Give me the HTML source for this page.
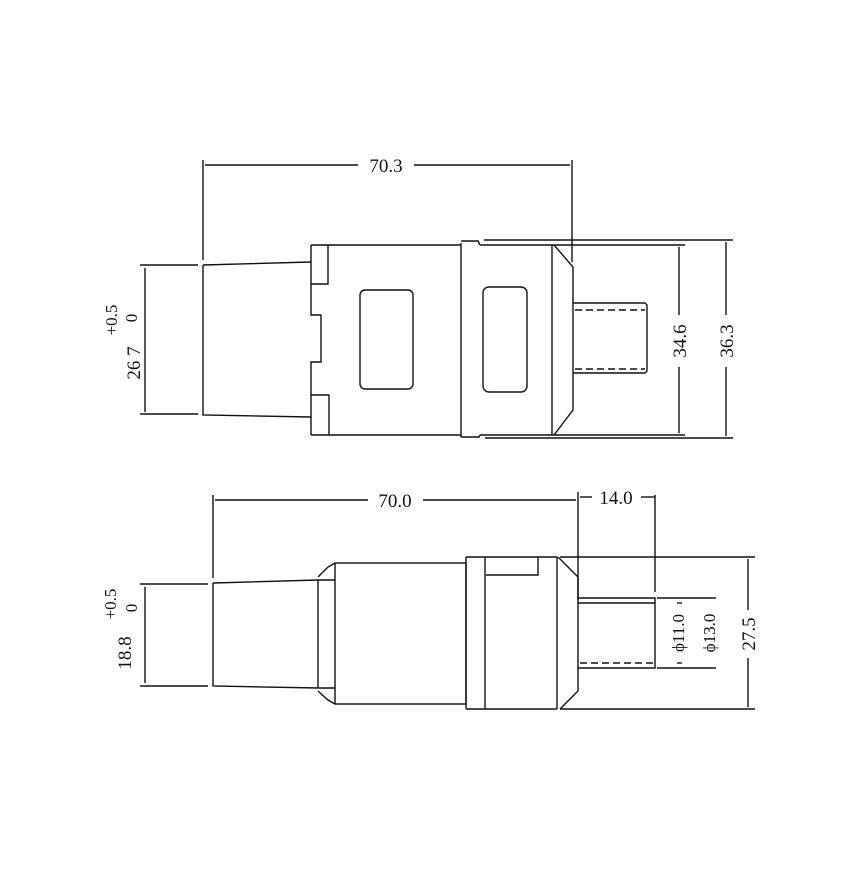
<!DOCTYPE html>
<html><head><style>html,body{margin:0;padding:0;background:#fff}</style></head><body>
<svg width="861" height="877" viewBox="0 0 861 877" xmlns="http://www.w3.org/2000/svg" font-family="Liberation Serif, serif" font-size="19" fill="none" stroke="#111" stroke-width="1.4">
<!-- TOP VIEW -->
<line x1="203" y1="160" x2="203" y2="260"/>
<line x1="572" y1="160" x2="572" y2="262"/>
<line x1="205" y1="165" x2="358" y2="165"/>
<line x1="414" y1="165" x2="570" y2="165"/>
<text x="386" y="172" fill="#111" stroke="none" text-anchor="middle">70.3</text>
<path d="M203 265 L311 262 M203 265 L203 415 L311 417"/>
<line x1="140" y1="265" x2="198" y2="265"/><line x1="140" y1="414" x2="198" y2="414"/>
<line x1="145" y1="268" x2="145" y2="412"/>
<text transform="translate(140,363) rotate(-90)" fill="#111" stroke="none" text-anchor="middle">26 7</text>
<text transform="translate(117,320) rotate(-90)" fill="#111" stroke="none" font-size="17" text-anchor="middle">+0.5</text>
<text transform="translate(137,318) rotate(-90)" fill="#111" stroke="none" font-size="17" text-anchor="middle">0</text>
<path d="M311 245 L461 245 M311 435 L461 435 M311 245 L311 315 L321 315 L321 362 L311 362 L311 435 M311 284 L328 284 L328 245 M311 395 L329 395 L329 435"/>
<rect x="360" y="290" width="53" height="99" rx="5"/>
<path d="M461 243 L461 437 M461 241 L478 241 L480 245 M461 437 L479 437 L480 435 M484 240 L733 240 M485 438 L733 438 M480 245 L555 245 M480 435 L555 435"/>
<line x1="552" y1="245" x2="552" y2="435"/>
<path d="M554 245 L573 267 L573 410 L554 435"/>
<rect x="483" y="287" width="44" height="105" rx="6"/>
<path d="M573 303 L645 303 L647 305 L647 371 L645 373 L573 373"/>
<path d="M575 310 L645 310 M575 369 L645 369" stroke-dasharray="7,4"/>
<line x1="555" y1="245" x2="685" y2="245"/><line x1="555" y1="435" x2="685" y2="435"/>
<line x1="679" y1="247" x2="679" y2="315"/><line x1="679" y1="367" x2="679" y2="433"/>
<text transform="translate(686,341) rotate(-90)" fill="#111" stroke="none" text-anchor="middle">34.6</text>
<line x1="726" y1="242" x2="726" y2="315"/><line x1="726" y1="367" x2="726" y2="436"/>
<text transform="translate(733,341) rotate(-90)" fill="#111" stroke="none" text-anchor="middle">36.3</text>
<!-- BOTTOM VIEW -->
<line x1="213" y1="495" x2="213" y2="578"/>
<line x1="215" y1="500" x2="368" y2="500"/>
<line x1="423" y1="500" x2="576" y2="500"/>
<text x="395" y="507" fill="#111" stroke="none" text-anchor="middle">70.0</text>
<line x1="578" y1="492" x2="578" y2="600"/>
<line x1="655" y1="495" x2="655" y2="592"/>
<line x1="580" y1="497" x2="592" y2="497"/><line x1="641" y1="497" x2="655" y2="497"/>
<text x="616" y="504" fill="#111" stroke="none" text-anchor="middle">14.0</text>
<path d="M213 583 L318 580 M213 583 L213 686 L318 688"/>
<line x1="140" y1="584" x2="208" y2="584"/><line x1="140" y1="686" x2="208" y2="686"/>
<line x1="145" y1="587" x2="145" y2="683"/>
<text transform="translate(131,653) rotate(-90)" fill="#111" stroke="none" text-anchor="middle">18.8</text>
<text transform="translate(116,604) rotate(-90)" fill="#111" stroke="none" font-size="17" text-anchor="middle">+0.5</text>
<text transform="translate(137,608) rotate(-90)" fill="#111" stroke="none" font-size="17" text-anchor="middle">0</text>
<path d="M318 580 L318 688 M318 580 L335 580 M318 688 L335 688 M318 577 L328 567 L335 563 M318 691 L328 700 L335 704"/>
<rect x="335" y="563" width="131" height="141"/>
<path d="M466 557 L466 709 M466 557 L557 557 M466 709 L557 709 M485 557 L485 709 M486 575 L538 575 L538 557"/>
<line x1="557" y1="557" x2="557" y2="709"/>
<path d="M558 557 L578 577 L578 691 L560 709"/>
<path d="M578 598 L655 598 L655 668 L578 668 M578 603 L655 603"/>
<path d="M580 663 L655 663" stroke-dasharray="7,4"/>
<line x1="560" y1="557" x2="755" y2="557"/><line x1="560" y1="709" x2="755" y2="709"/>
<line x1="748" y1="559" x2="748" y2="610"/><line x1="748" y1="658" x2="748" y2="707"/>
<text transform="translate(755,634) rotate(-90)" fill="#111" stroke="none" text-anchor="middle">27.5</text>
<line x1="657" y1="598" x2="716" y2="598"/><line x1="657" y1="668" x2="716" y2="668"/>
<line x1="677" y1="603" x2="682" y2="603"/><line x1="677" y1="663" x2="682" y2="663"/>
<text transform="translate(684,633) rotate(-90)" fill="#111" stroke="none" font-size="17" text-anchor="middle">ϕ11.0</text>
<text transform="translate(715,633) rotate(-90)" fill="#111" stroke="none" font-size="17" text-anchor="middle">ϕ13.0</text>
</svg>
</body></html>
